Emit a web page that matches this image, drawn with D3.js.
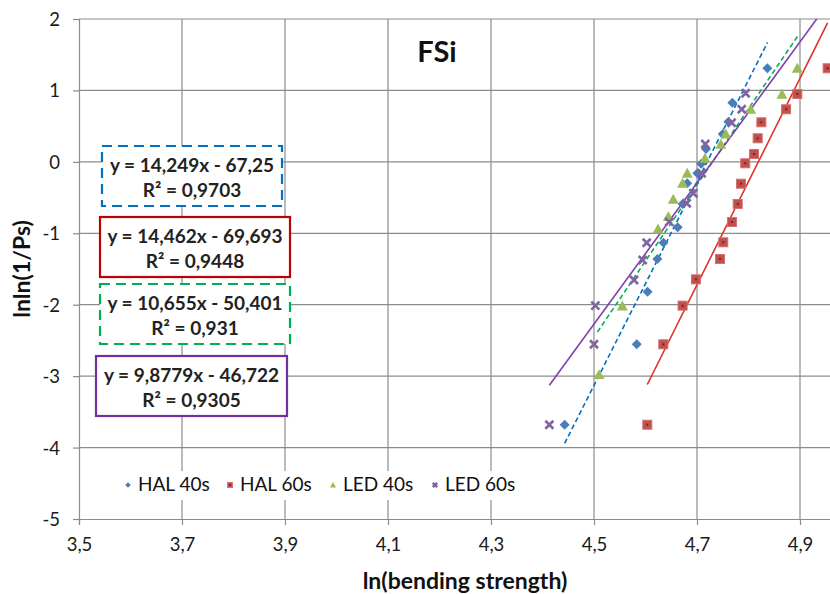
<!DOCTYPE html>
<html>
<head>
<meta charset="utf-8">
<script src="https://cdn.jsdelivr.net/npm/d3@7"></script>
<style>
  html, body { margin: 0; padding: 0; background: #fff; }
  svg { display: block; font-family: Lato, "Noto Sans", sans-serif; }
</style>
</head>
<body>
<svg id="chart" width="830" height="594"></svg>
<script>
// Weibull plot of bending strength: lnln(1/Ps) vs ln(strength)
const seriesNames = ["HAL 40s", "HAL 60s", "LED 40s", "LED 60s"];
const seriesColors = ["#4a7ebb", "#c0504d", "#9bbb59", "#8064a2"];
const trendColors = ["#0070c0", "#e0302e", "#00b050", "#7f3fb0"];
const trendDashed = [true, false, true, false];

const hal40 = [[4.443,-3.68],[4.583,-2.554],[4.604,-1.817],[4.623,-1.36],[4.635,-1.131],
  [4.6625,-0.917],[4.672,-0.59],[4.681,-0.30],[4.7006,-0.16],[4.708,-0.026],[4.7175,0.18],
  [4.750,0.39],[4.761,0.563],[4.7686,0.828],[4.8366,1.31]];
const hal60 = [[4.6035,-3.68],[4.6346,-2.554],[4.672,-2.013],[4.698,-1.645],[4.7447,-1.36],
  [4.751,-1.126],[4.768,-0.842],[4.779,-0.59],[4.7854,-0.306],[4.7937,-0.02],[4.8107,0.11],
  [4.8178,0.33],[4.825,0.554],[4.873,0.736],[4.8948,0.95],[4.9536,1.31]];
const led40 = [[4.5097,-2.98],[4.555,-2.018],[4.6243,-0.94],[4.6443,-0.768],[4.654,-0.524],
  [4.672,-0.30],[4.681,-0.16],[4.7155,0.05],[4.7462,0.246],[4.7559,0.39],[4.8042,0.736],
  [4.865,0.946],[4.8948,1.31]];
const led60 = [[4.4133,-3.68],[4.5,-2.554],[4.5026,-2.013],[4.5777,-1.654],[4.5945,-1.374],
  [4.6023,-1.132],[4.646,-0.84],[4.680,-0.58],[4.6929,-0.44],[4.709,-0.16],[4.7161,0.25],
  [4.7673,0.548],[4.7868,0.736],[4.7945,0.96]];

// linear trendlines y = a*x + b and the x span each one covers
const slopes = [14.249, 14.462, 10.655, 9.8779];
const intercepts = [-67.25, -69.693, -50.401, -46.722];
const trendRanges = [[4.443, 4.837], [4.6035, 4.9536], [4.5065, 4.895], [4.4133, 4.9536]];
const equations = ["y = 14,249x - 67,25", "y = 14,462x - 69,693", "y = 10,655x - 50,401", "y = 9,8779x - 46,722"];
const rSquared = ["R\u00b2 = 0,9703", "R\u00b2 = 0,9448", "R\u00b2 = 0,931", "R\u00b2 = 0,9305"];

const xTicks = [3.5, 3.7, 3.9, 4.1, 4.3, 4.5, 4.7, 4.9];
const yTicks = [-5, -4, -3, -2, -1, 0, 1, 2];

const allSeries = [hal40, hal60, led40, led60];

const svg = d3.select("#chart");
const plot = { left: 79, top: 19, bottom: 519, right: 851.5 };

const x = d3.scaleLinear().domain([3.5, 5.0]).range([plot.left, plot.right]);
const y = d3.scaleLinear().domain([-5, 2]).range([plot.bottom, plot.top]);
const fmt = v => d3.format(".1f")(v).replace(".", ",");

svg.append("defs").append("clipPath").attr("id", "plotClip")
  .append("rect").attr("x", plot.left).attr("y", plot.top)
  .attr("width", plot.right - plot.left).attr("height", plot.bottom - plot.top);

// gridlines
const grid = svg.append("g").attr("stroke", "#8c8c8c").attr("stroke-width", 1.2);
grid.selectAll("line.v").data(xTicks.slice(1)).join("line")
  .attr("x1", d => x(d)).attr("x2", d => x(d)).attr("y1", plot.top).attr("y2", plot.bottom);
grid.selectAll("line.h").data(yTicks.slice(1)).join("line")
  .attr("x1", plot.left).attr("x2", plot.right).attr("y1", d => y(d)).attr("y2", d => y(d));

// axes
const xAxis = d3.axisBottom(x).tickValues(xTicks).tickFormat(fmt).tickSize(6).tickPadding(13);
const yAxis = d3.axisLeft(y).tickValues(yTicks).tickFormat(d3.format("d")).tickSize(6).tickPadding(13);
const gx = svg.append("g").attr("transform", `translate(0,${plot.bottom})`).call(xAxis);
const gy = svg.append("g").attr("transform", `translate(${plot.left},0)`).call(yAxis);
[gx, gy].forEach(g => {
  g.select(".domain").attr("stroke", "#8c8c8c").attr("stroke-width", 1.2);
  g.selectAll(".tick line").attr("stroke", "#8c8c8c").attr("stroke-width", 1.2);
  g.selectAll(".tick text").attr("fill", "#1a1a1a").attr("font-size", 18.5)
    .attr("font-family", "Lato, sans-serif");
});
gy.selectAll(".tick text").attr("dy", "0.35em").text(d => d < 0 ? "-" + Math.abs(d) : d);

// trendlines
const tl = svg.append("g").attr("clip-path", "url(#plotClip)");
allSeries.forEach((s, i) => {
  const [x0, x1] = trendRanges[i];
  tl.append("line")
    .attr("x1", x(x0)).attr("y1", y(slopes[i] * x0 + intercepts[i]))
    .attr("x2", x(x1)).attr("y2", y(slopes[i] * x1 + intercepts[i]))
    .attr("stroke", trendColors[i]).attr("stroke-width", 1.6)
    .attr("stroke-dasharray", trendDashed[i] ? "5,3" : null);
});

// marker shapes
function marker(g, i, cx, cy, scale) {
  const k = scale || 1;
  const c = seriesColors[i];
  if (i === 0) {
    const r = 5 * k;
    g.append("path").attr("d", `M${cx},${cy - r}L${cx + r},${cy}L${cx},${cy + r}L${cx - r},${cy}Z`)
      .attr("fill", c);
  } else if (i === 1) {
    const h = 4.5 * k;
    g.append("rect").attr("x", cx - h).attr("y", cy - h).attr("width", 2 * h).attr("height", 2 * h)
      .attr("fill", c).attr("stroke", "#d4706d").attr("stroke-width", 1);
    g.append("rect").attr("x", cx - 1).attr("y", cy - 1).attr("width", 2).attr("height", 2)
      .attr("fill", "#8e1b1b");
  } else if (i === 2) {
    const s = 5.5 * k;
    g.append("path").attr("d", `M${cx},${cy - s}L${cx + s},${cy + s * 0.8}L${cx - s},${cy + s * 0.8}Z`)
      .attr("fill", c);
  } else {
    const a = 4 * k;
    g.append("path").attr("d", `M${cx - a},${cy - a}L${cx + a},${cy + a}M${cx - a},${cy + a}L${cx + a},${cy - a}`)
      .attr("stroke", c).attr("stroke-width", 2.6);
  }
}

const pts = svg.append("g").attr("clip-path", "url(#plotClip)");
allSeries.forEach((s, i) => {
  s.forEach(p => marker(pts, i, x(p[0]), y(p[1])));
});

// title
svg.append("text").attr("x", 437).attr("y", 62).attr("text-anchor", "middle")
  .attr("font-size", 29).attr("font-weight", "bold").attr("fill", "#111").text("FSi");

// axis titles
svg.append("text").attr("x", 465).attr("y", 589).attr("text-anchor", "middle")
  .attr("font-size", 23).attr("font-weight", "bold").attr("fill", "#111").text("ln(bending strength)");
svg.append("text").attr("transform", "translate(30,269) rotate(-90)").attr("text-anchor", "middle")
  .attr("font-size", 23).attr("font-weight", "bold").attr("fill", "#111").text("lnln(1/Ps)");

// trendline equation boxes
const boxes = [[102, 146, 180, 60], [100, 217, 190, 60], [100, 284, 190, 60], [96, 356, 191, 60]];
const boxStroke = ["#0070c0", "#c00000", "#00b050", "#7030a0"];
boxes.forEach((b, i) => {
  const g = svg.append("g");
  g.append("rect").attr("x", b[0]).attr("y", b[1]).attr("width", b[2]).attr("height", b[3])
    .attr("fill", "#fff").attr("stroke", boxStroke[i]).attr("stroke-width", 2.2)
    .attr("stroke-dasharray", trendDashed[i] ? "10,6" : null);
  const cx = b[0] + b[2] / 2;
  g.append("text").attr("x", cx).attr("y", b[1] + 26).attr("text-anchor", "middle")
    .attr("font-size", 19).attr("font-weight", "bold").attr("fill", "#222").text(equations[i]);
  g.append("text").attr("x", cx).attr("y", b[1] + 51).attr("text-anchor", "middle")
    .attr("font-size", 19).attr("font-weight", "bold").attr("fill", "#222").text(rSquared[i]);
});

// legend
const lg = svg.append("g");
lg.append("rect").attr("x", 112).attr("y", 471).attr("width", 408).attr("height", 29).attr("fill", "#fff");
const legendX = [128, 230, 333, 435];
seriesNames.forEach((n, i) => {
  marker(lg, i, legendX[i], 485, 0.55);
  lg.append("text").attr("x", legendX[i] + 10).attr("y", 491)
    .attr("font-size", 19).attr("fill", "#111").text(n);
});
</script>
</body>
</html>
